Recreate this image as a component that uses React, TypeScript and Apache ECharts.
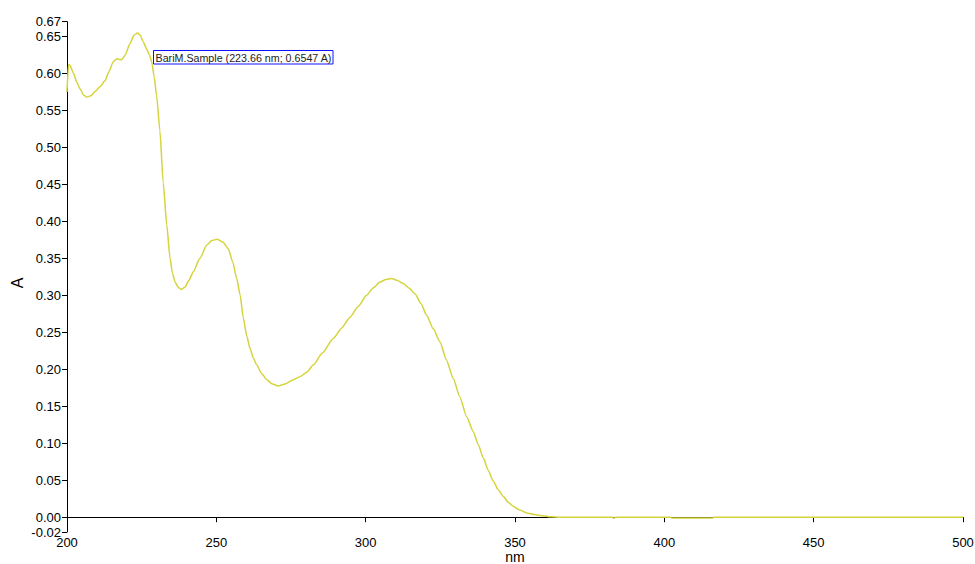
import React, { useEffect, useRef } from "react";
import * as echarts from "echarts";

// Spectrum: wavelength (nm) and absorbance (A)
const wavelengths: number[] = [
  200, 200.5, 201, 202.1, 203.3, 204.4, 205.5, 206.6, 208, 209.5, 211, 212.7, 214, 215.5, 216.6, 217.5, 218.3,
  219.5, 221, 222.5, 223.6, 224.5, 225.5, 226.7, 227.6, 228.4, 229.2, 230.0, 231.1, 232.2, 233.4, 234.5, 235.3,
  236.2, 237.2, 238.2, 239.5, 240.8, 242.3, 244.5, 246.8, 248.5, 250.3, 252.2, 254.0, 255.5, 256.8, 258.0, 259.0,
  260.2, 261.3, 262.4, 263.5, 265.2, 266.9, 268.8, 270.7, 273, 275.8, 278, 280.3, 282.5, 285.5, 289.2, 292, 294.7,
  297.5, 300.3, 302.5, 304.8, 306.8, 308.7, 310.7, 312.6, 314.5, 316.5, 318.5, 320.4, 322.6, 324.9, 327, 329.3,
  331.5, 333.8, 336.0, 337.7, 339.4, 341, 342.7, 344.4, 346.1, 347.8, 349.4, 351.5, 353.9, 356.5, 359.5, 361.7,
  365, 382.5, 383.1, 383.7, 402, 402.5, 416.3, 416.5, 500,
];
const absorbance: number[] = [
  0.575, 0.612, 0.611, 0.601, 0.588, 0.579, 0.571, 0.568, 0.570, 0.576, 0.582, 0.590, 0.602, 0.616, 0.620, 0.619, 0.6185,
  0.625, 0.640, 0.652, 0.6547, 0.652, 0.643, 0.633, 0.625, 0.615, 0.595, 0.570, 0.523, 0.453, 0.395, 0.350, 0.330,
  0.318, 0.311, 0.308, 0.311, 0.320, 0.332, 0.350, 0.368, 0.374, 0.376, 0.372, 0.363, 0.345, 0.323, 0.300, 0.270,
  0.245, 0.228, 0.215, 0.206, 0.194, 0.186, 0.180, 0.1775, 0.180, 0.186, 0.190, 0.196, 0.206, 0.222, 0.242, 0.256, 0.270,
  0.285, 0.300, 0.310, 0.318, 0.3215, 0.3227, 0.320, 0.316, 0.310, 0.302, 0.289, 0.273, 0.255, 0.237, 0.213, 0.188,
  0.163, 0.136, 0.116, 0.098, 0.080, 0.064, 0.049, 0.037, 0.028, 0.020, 0.0148, 0.010, 0.0058, 0.0035, 0.002, 0.0005,
  0.0, 0.0, -0.0015, 0.0, 0.0, -0.001, -0.001, 0.0, 0.0,
];

const yTickValues: number[] = [-0.02, 0, 0.05, 0.1, 0.15, 0.2, 0.25, 0.3, 0.35, 0.4, 0.45, 0.5, 0.55, 0.6, 0.65, 0.67];
const annotationText = "BariM.Sample (223.66 nm; 0.6547 A)";

export default function App() {
  const ref = useRef<HTMLDivElement>(null);
  useEffect(() => {
    if (!ref.current) return;
    const chart = echarts.init(ref.current, undefined, { renderer: "svg" });
    const font = "'Liberation Sans', Arial, sans-serif";
    chart.setOption({
      animation: false,
      backgroundColor: "#ffffff",
      grid: { left: 67, right: 12, top: 21.7, bottom: 32, containLabel: false, outerBoundsMode: "none" },
      xAxis: {
        type: "value",
        min: 200,
        max: 500,
        interval: 50,
        name: "nm",
        nameLocation: "middle",
        nameGap: 18,
        nameMoveOverlap: false,
        nameTextStyle: { fontFamily: font, fontSize: 14, color: "#000", lineHeight: 14 },
        axisLine: { show: true, lineStyle: { color: "#000", width: 1 } },
        axisTick: { show: true, length: 5, inside: false, lineStyle: { color: "#000" } },
        axisLabel: { fontFamily: font, fontSize: 13, lineHeight: 13, color: "#000", margin: 3.5 },
        splitLine: { show: false },
      },
      yAxis: {
        type: "value",
        min: -0.02,
        max: 0.67,
        name: "A",
        nameLocation: "middle",
        nameGap: 42,
        nameRotate: 90,
        nameMoveOverlap: false,
        nameTextStyle: { fontFamily: font, fontSize: 16, color: "#000", lineHeight: 16, padding: [0, 0, 0, -12] },
        axisLine: { show: true, lineStyle: { color: "#000", width: 1 } },
        axisTick: { show: true, length: 5, inside: false, customValues: yTickValues, lineStyle: { color: "#000" } },
        axisLabel: {
          fontFamily: font,
          fontSize: 13,
          color: "#000",
          margin: 6,
          customValues: yTickValues,
          hideOverlap: false,
          formatter: (v: number) => v.toFixed(2),
        },
        splitLine: { show: false },
      },
      series: [
        {
          type: "line",
          data: wavelengths.map((w, i) => [w, absorbance[i]]),
          showSymbol: false,
          smooth: 0.2,
          smoothMonotone: "x",
          lineStyle: { color: "#d4d43c", width: 1.5 },
          itemStyle: { color: "#d4d43c" },
          clip: true,
        },
      ],
      graphic: [
        {
          type: "group",
          left: 153,
          top: 50,
          children: [
            {
              type: "rect",
              shape: { x: 0.5, y: 0.5, width: 179.5, height: 13.5 },
              style: { fill: "#ffffff", stroke: "#1010ff", lineWidth: 1 },
            },
            {
              type: "text",
              x: 2.5,
              y: 7.5,
              style: {
                text: annotationText,
                font: `10.7px ${font}`,
                fill: "#222",
                verticalAlign: "middle",
                align: "left",
              },
            },
          ],
        },
      ],
    });
    return () => chart.dispose();
  }, []);
  return <div ref={ref} style={{ width: 975, height: 564, position: "absolute", left: 0, top: 0 }} />;
}
